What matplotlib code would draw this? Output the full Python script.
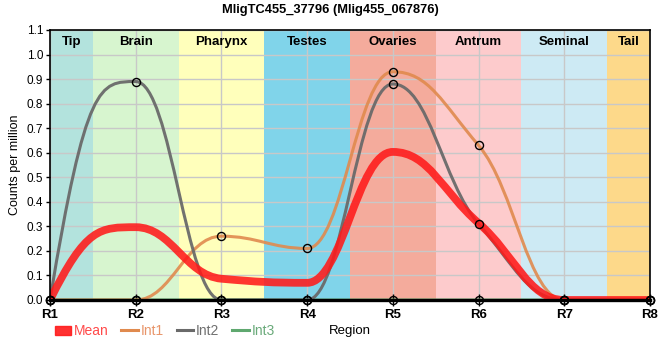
import numpy as np
import matplotlib
matplotlib.use("Agg")
import matplotlib.pyplot as plt
from matplotlib.path import Path
from matplotlib.patches import PathPatch, Patch
from matplotlib.lines import Line2D

plt.rcParams['font.family'] = ['Liberation Sans', 'DejaVu Sans']

# --- data ---
regions = ["R1", "R2", "R3", "R4", "R5", "R6", "R7", "R8"]
int1 = [0.0, 0.0, 0.26, 0.21, 0.93, 0.63, 0.0, 0.0]
int2 = [0.0, 0.89, 0.0, 0.0, 0.88, 0.31, 0.0, 0.0]
int3 = [0.0, 0.0, 0.0, 0.0, 0.0, 0.0, 0.0, 0.0]
mean = list(np.mean([int1, int2, int3], axis=0))

tissues = ["Tip", "Brain", "Pharynx", "Testes", "Ovaries", "Antrum", "Seminal", "Tail"]
tissue_colors = ["#b3e3dd", "#d7f5cf", "#ffffbb", "#80d4ea",
                 "#f4ab9c", "#fdcbcc", "#cdeaf4", "#fdd98a"]


def smooth_path(y, k=0.42):
    # monotone-ish cubic bezier through the points (x = 0..n-1)
    y = np.asarray(y, dtype=float)
    n = len(y)
    d = np.diff(y)
    m = np.zeros(n)
    for i in range(1, n - 1):
        if d[i - 1] * d[i] > 0:
            m[i] = 2.0 / (1.0 / d[i - 1] + 1.0 / d[i])
    m[0] = 2.5 * d[0]
    m[-1] = 2.5 * d[-1]
    verts = [(0, y[0])]
    codes = [Path.MOVETO]
    for i in range(n - 1):
        dy0 = k * m[i]
        dy1 = k * m[i + 1]
        if i == 0:
            dy0 = np.sign(d[0]) * min(abs(dy0), abs(d[0]))
        if i == n - 2:
            dy1 = np.sign(d[-1]) * min(abs(dy1), abs(d[-1]))
        verts += [(i + k, y[i] + dy0), (i + 1 - k, y[i + 1] - dy1), (i + 1, y[i + 1])]
        codes += [Path.CURVE4] * 3
    return Path(verts, codes)


fig = plt.figure(figsize=(6.6, 3.6), dpi=100)
ax = fig.add_axes([50 / 660, 60 / 360, 600 / 660, 270 / 360])

x = np.arange(len(regions))
for i, (name, col) in enumerate(zip(tissues, tissue_colors)):
    lo = max(i - 0.5, 0)
    hi = min(i + 0.5, len(regions) - 1)
    ax.axvspan(lo, hi, color=col, zorder=0.2, lw=0)
    ax.text((lo + hi) / 2, 0.955, name, transform=ax.get_xaxis_transform(),
            ha="center", va="center", fontsize=9.5, fontweight="bold")

series = [("Int3", int3, "#5fa86f", 2.2, 0.9),
          ("Int1", int1, "#e08a4e", 2.2, 0.9),
          ("Int2", int2, "#6a6a6a", 2.2, 0.95)]
for name, vals, col, lw, a in series:
    ax.add_patch(PathPatch(smooth_path(vals), fill=False, edgecolor=col, lw=lw,
                           alpha=a, zorder=3, capstyle="round"))

ax.add_patch(PathPatch(smooth_path(mean), fill=False, edgecolor="#ff1a1a", lw=5.6,
                       alpha=0.88, zorder=4, capstyle="round"))

for vals in (int3, int1, int2):
    ax.plot(x, vals, linestyle="none", marker="o", ms=5.8, mfc="none",
            mec="black", mew=1, zorder=6, clip_on=False)

ax.set_xlim(0, len(regions) - 1)
ax.set_ylim(0, 1.1)
ax.set_xticks(x)
ax.set_xticklabels(regions, fontweight="bold", fontsize=9.5)
ax.set_yticks(np.round(np.arange(0, 1.11, 0.1), 1))
ax.set_yticklabels([f"{v:.1f}" for v in np.arange(0, 1.11, 0.1)], fontsize=8.5)
ax.tick_params(axis="x", direction="inout", length=9, width=1, pad=2)
ax.tick_params(axis="y", direction="out", length=3, width=1, pad=2)
ax.grid(True, color="#c8c8c8", lw=1)
ax.set_axisbelow(True)

for s in ("left", "top", "right"):
    ax.spines[s].set_linewidth(1.2)
    ax.spines[s].set_zorder(5)
ax.spines["bottom"].set_linewidth(2.4)
ax.spines["bottom"].set_zorder(5)

ax.set_ylabel("Counts per million", fontsize=9, labelpad=4)
ax.text(0.5, -0.115, "Region", transform=ax.transAxes, ha="center", va="center",
        fontsize=9.5)
fig.text(0.5, 1 - 10 / 360, "MligTC455_37796 (Mlig455_067876)", ha="center",
         va="center", fontsize=9.3, fontweight="bold")

handles = [Patch(color="#ff1a1a", alpha=0.9),
           Line2D([], [], color="#e08a4e", lw=2.2),
           Line2D([], [], color="#6a6a6a", lw=2.2),
           Line2D([], [], color="#5fa86f", lw=2.2)]
labels = ["Mean", "Int1", "Int2", "Int3"]
leg = ax.legend(handles, labels, ncol=4, frameon=False, fontsize=10,
                loc="center left", bbox_to_anchor=(0.008, -0.115),
                handlelength=1.2, handleheight=0.6, handletextpad=0.2,
                columnspacing=0.9, borderaxespad=0, borderpad=0)
for t, c in zip(leg.get_texts(), ["#ff4a4a", "#e8956a", "#707070", "#6aaa7a"]):
    t.set_color(c)

fig.savefig("out.png", dpi=100)
